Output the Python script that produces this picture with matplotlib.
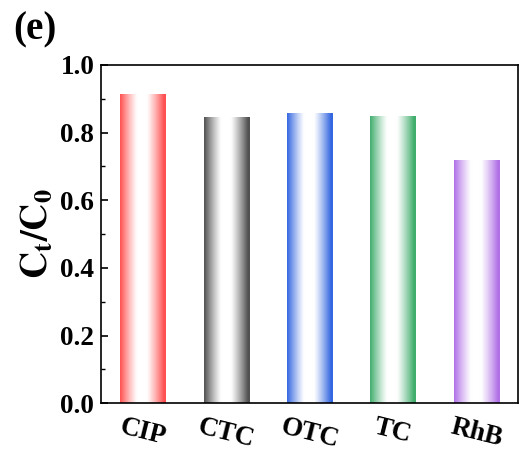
import numpy as np
import matplotlib
matplotlib.use("Agg")
import matplotlib.pyplot as plt
from matplotlib.colors import to_rgb

plt.rcParams['font.family'] = 'Liberation Serif'
plt.rcParams['font.weight'] = 'bold'
plt.rcParams['mathtext.fontset'] = 'stix'

pollutants = ['CIP', 'CTC', 'OTC', 'TC', 'RhB']
ratio = [0.912, 0.843, 0.855, 0.846, 0.716]
colors = ['#ff5050', '#505050', '#3366e0', '#40ad6c', '#b070e6']

fig = plt.figure(figsize=(5.19, 4.54), dpi=100)
ax = fig.add_axes([0.195, 0.112, 0.803, 0.745])

width = 0.54
u = np.linspace(0, 1, 200)
# colour at the edges, white in the middle
t = np.clip(np.abs(u - 0.48) / 0.48, 0, 1) ** 1.3
t = np.clip((t - 0.15) / 0.85, 0, 1)
for i, (v, c) in enumerate(zip(ratio, colors)):
    rgb = np.array(to_rgb(c))
    img = t[:, None] * rgb[None, :] + (1 - t[:, None]) * np.ones(3)[None, :]
    ax.imshow(img[None, :, :], extent=(i - width / 2, i + width / 2, 0, v),
              aspect='auto', interpolation='bicubic', zorder=2)

ax.set_xlim(-0.5, len(pollutants) - 0.5)
ax.set_ylim(0, 1.0)
ax.set_xticks(range(len(pollutants)))
ax.set_xticklabels(pollutants, fontsize=19.5, fontweight='bold', rotation=-14)
ax.set_yticks(np.arange(0, 1.01, 0.2))
ax.set_yticks(np.arange(0.1, 1.0, 0.2), minor=True)
ax.set_yticklabels(['%.1f' % v for v in np.arange(0, 1.01, 0.2)],
                   fontsize=19.5, fontweight='bold')
ax.tick_params(direction='in', length=5, width=1.2)
ax.tick_params(which='minor', direction='in', length=3, width=1.0)
ax.tick_params(axis='x', pad=8)
ax.tick_params(axis='y', pad=5)
for s in ax.spines.values():
    s.set_linewidth(1.2)

ax.set_ylabel(r'$\mathbf{C_t/C_0}$', fontsize=27, labelpad=4)
fig.text(0.025, 0.975, '(e)', fontsize=28, fontweight='bold', va='top')

fig.savefig('out.png', dpi=100)
